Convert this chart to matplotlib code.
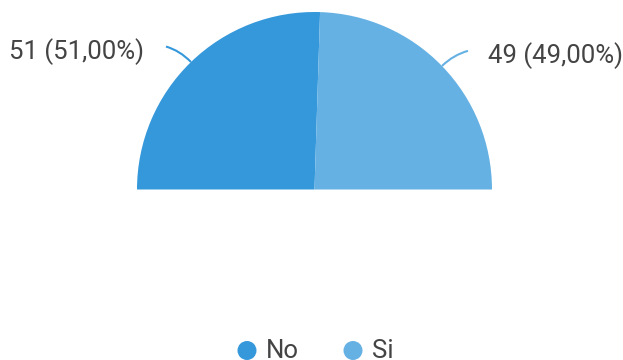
import numpy as np
import matplotlib
matplotlib.use("Agg")
import matplotlib.pyplot as plt
from matplotlib.patches import Wedge, Circle, PathPatch
from matplotlib.path import Path

categories = ["No", "Si"]
counts = [51, 49]
colors = ["#3598db", "#66b1e3"]

W, H = 623, 360
fig = plt.figure(figsize=(W / 100, H / 100), dpi=100)
ax = fig.add_axes([0, 0, 1, 1])
ax.set_xlim(0, W)
ax.set_ylim(0, H)
ax.axis("off")

text_color = "#444444"
font = "Roboto"

# half-donut geometry (pixel space, y up)
cx, cy, r = 314.5, H - 189.5, 177.5
total = sum(counts)
start = 180.0
label_pos = [(144, H - 52, "right"), (488, H - 56, "left")]
for i, (cat, val, col) in enumerate(zip(categories, counts, colors)):
    span = 180.0 * val / total
    end = start - span
    ax.add_patch(Wedge((cx, cy), r, end, start, facecolor=col, edgecolor="none"))
    mid = np.radians((start + end) / 2)
    p0 = (cx + r * np.cos(mid), cy + r * np.sin(mid))
    p1 = (cx + (r + 16) * np.cos(mid), cy + (r + 16) * np.sin(mid))
    tx, ty, ha = label_pos[i]
    p2 = (tx + (22 if ha == "right" else -20), p1[1] + 4)
    path = Path([p0, p1, p2], [Path.MOVETO, Path.CURVE3, Path.CURVE3])
    ax.add_patch(PathPatch(path, facecolor="none", edgecolor=col, lw=1.5))
    pct = f"{100 * val / total:.2f}".replace(".", ",")
    ax.text(tx, ty, f"{val} ({pct}%)", ha=ha, va="center", fontsize=18.5,
            family=font, color=text_color)
    start = end

# legend
ly = H - 350.5
legend_x = [247, 353]
for cat, col, lx in zip(categories, colors, legend_x):
    ax.add_patch(Circle((lx, ly), 9.5, facecolor=col, edgecolor="none"))
    ax.text(lx + 19, ly, cat, ha="left", va="center", fontsize=18.5,
            family=font, color=text_color)

fig.savefig("out.png", dpi=100)
